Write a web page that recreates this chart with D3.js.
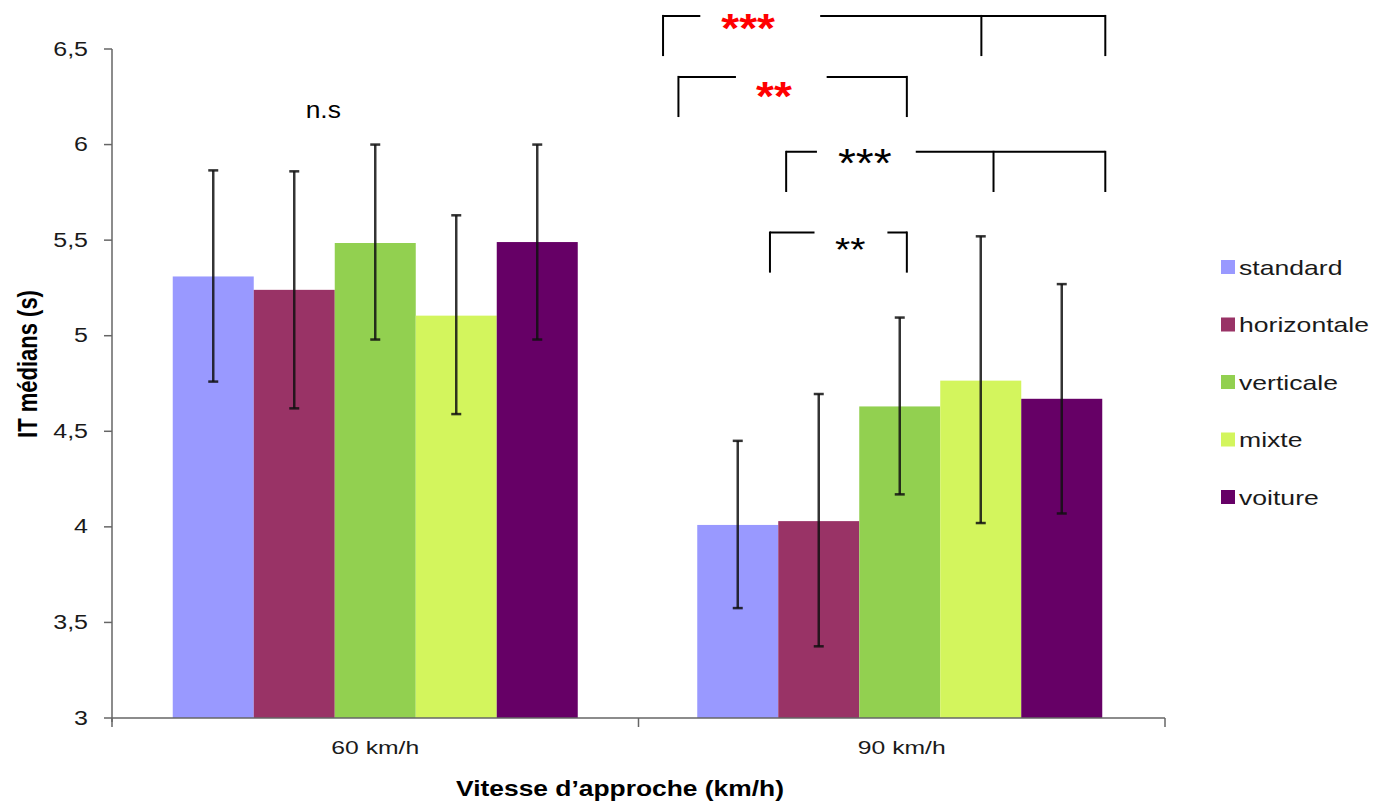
<!DOCTYPE html>
<html lang="fr">
<head>
    <meta charset="UTF-8">
    <title>IT médians selon la vitesse d'approche</title>
    <script src="https://d3js.org/d3.v7.min.js"></script>
    <style>
        body {
            margin: 0;
            background: white;
            font-family: "Liberation Sans", Arial, sans-serif;
        }
        .axis-line { stroke: #666; stroke-width: 1.5; fill: none; }
        .err { stroke: #111; stroke-width: 2.5; stroke-opacity: 0.85; }
        .bracket { stroke: #000; stroke-width: 2; fill: none; }
    </style>
</head>
<body>
    <svg id="chart" width="1379" height="805"></svg>

    <script>
        // Data
        const categories = ['60 km/h', '90 km/h'];
        const series = ['standard', 'horizontale', 'verticale', 'mixte', 'voiture'];
        const colors = ['#9999ff', '#993366', '#92d050', '#d3f55d', '#660066'];
        const yTicks = [3, 3.5, 4, 4.5, 5, 5.5, 6, 6.5];

        // medians per category, one entry per series
        const medians = [
            [5.31, 5.24, 5.485, 5.105, 5.49],
            [4.01, 4.03, 4.63, 4.765, 4.67]
        ];
        const errLow = [
            [4.76, 4.62, 4.98, 4.59, 4.98],
            [3.575, 3.375, 4.17, 4.02, 4.07]
        ];
        const errHigh = [
            [5.865, 5.86, 6.0, 5.63, 6.0],
            [4.45, 4.695, 5.095, 5.52, 5.27]
        ];

        // significance brackets over the 90 km/h group
        // x in bar slots (0 = standard ... 4 = voiture), y in data units
        const brackets = [
            { label: '***', color: '#ff0000', bold: true, size: 40, top: 6.673, bottom: 6.463,
              left: -0.91, right: 4.55, drops: [-0.91, 3.02, 4.55], gap: [-0.45, 1.03], text: 0.14, textY: 6.652 },
            { label: '**', color: '#ff0000', bold: true, size: 40, top: 6.354, bottom: 6.144,
              left: -0.72, right: 2.10, drops: [-0.72, 2.10], gap: [-0.01, 1.11], text: 0.46, textY: 6.296 },
            { label: '***', color: '#000000', bold: false, size: 40, top: 5.962, bottom: 5.752,
              left: 0.61, right: 4.55, drops: [0.61, 3.17, 4.55], gap: [0.99, 2.21], text: 1.58, textY: 5.945 },
            { label: '**', color: '#000000', bold: false, size: 34, top: 5.540, bottom: 5.330,
              left: 0.41, right: 2.10, drops: [0.41, 2.10], gap: [0.96, 1.86], text: 1.40, textY: 5.49 }
        ];

        const svg = d3.select('#chart');
        const plot = { left: 112, right: 1165, top: 49, bottom: 718 };
        const sx = 1.25; // the original picture is stretched sideways

        const x0 = d3.scaleBand()
            .domain(categories)
            .range([plot.left, plot.right]);

        const x1 = d3.scaleBand()
            .domain(series)
            .range([0, x0.bandwidth()])
            .paddingOuter(0.75);

        const y = d3.scaleLinear()
            .domain([3, 6.5])
            .range([plot.bottom, plot.top]);

        function stretchedText(g, x, yPos, txt, opts) {
            const t = g.append('text')
                .attr('transform', `translate(${x},${yPos}) scale(${opts.sx || sx},1)` + (opts.rotate ? ` rotate(${opts.rotate})` : ''))
                .attr('text-anchor', opts.anchor || 'middle')
                .attr('font-size', opts.size)
                .attr('font-weight', opts.bold ? 'bold' : 'normal')
                .attr('fill', opts.color || '#000')
                .text(txt);
            if (opts.baseline) t.attr('dominant-baseline', opts.baseline);
            return t;
        }

        // bars
        const groups = svg.append('g')
            .selectAll('g')
            .data(categories)
            .join('g')
            .attr('transform', (d, i) => `translate(${x0(d) - 2 * i},0)`);

        groups.selectAll('rect')
            .data((d, ci) => series.map((s, si) => ({ s, si, v: medians[ci][si] })))
            .join('rect')
            .attr('x', d => x1(d.s))
            .attr('y', d => y(d.v))
            .attr('width', x1.bandwidth())
            .attr('height', d => y(3) - y(d.v))
            .attr('fill', d => colors[d.si]);

        // error bars
        const capW = 5;
        const errs = groups.selectAll('g.errbar')
            .data((d, ci) => series.map((s, si) => ({ s, lo: errLow[ci][si], hi: errHigh[ci][si] })))
            .join('g')
            .attr('class', 'errbar')
            .attr('transform', d => `translate(${x1(d.s) + x1.bandwidth() / 2},0)`);

        errs.append('line').attr('class', 'err')
            .attr('x1', 0).attr('x2', 0)
            .attr('y1', d => y(d.lo)).attr('y2', d => y(d.hi));
        errs.append('line').attr('class', 'err')
            .attr('x1', -capW).attr('x2', capW)
            .attr('y1', d => y(d.hi)).attr('y2', d => y(d.hi));
        errs.append('line').attr('class', 'err')
            .attr('x1', -capW).attr('x2', capW)
            .attr('y1', d => y(d.lo)).attr('y2', d => y(d.lo));

        // y axis
        const yAxis = svg.append('g');
        yAxis.append('line').attr('class', 'axis-line')
            .attr('x1', plot.left).attr('x2', plot.left)
            .attr('y1', y(6.5)).attr('y2', plot.bottom + 4);
        yTicks.forEach(t => {
            yAxis.append('line').attr('class', 'axis-line')
                .attr('x1', plot.left - 8).attr('x2', plot.left)
                .attr('y1', y(t)).attr('y2', y(t));
            stretchedText(yAxis, 88, y(t), String(t).replace('.', ','),
                { size: 20, anchor: 'end', color: '#1a1a1a', baseline: 'central' });
        });

        // x axis
        const xAxis = svg.append('g');
        xAxis.append('line').attr('class', 'axis-line')
            .attr('x1', plot.left).attr('x2', plot.right)
            .attr('y1', plot.bottom).attr('y2', plot.bottom);
        [plot.left, ...categories.map(c => x0(c) + x0.bandwidth())].forEach(px => {
            xAxis.append('line').attr('class', 'axis-line')
                .attr('x1', px).attr('x2', px)
                .attr('y1', plot.bottom).attr('y2', plot.bottom + 9);
        });
        categories.forEach(c => {
            stretchedText(xAxis, x0(c) + x0.bandwidth() / 2, 754, c,
                { size: 19, sx: 1.3, color: '#1a1a1a' });
        });

        // axis titles
        stretchedText(svg, 620, 796, 'Vitesse d\u2019approche (km/h)', { size: 22, bold: true, sx: 1.2 });
        stretchedText(svg, 37, 364, 'IT médians (s)', { size: 22, bold: true, rotate: -90 });

        // n.s over the 60 km/h group
        stretchedText(svg, x0(categories[0]) + x0.bandwidth() / 2 - 52, 118, 'n.s', { size: 24, sx: 1.1 });

        // brackets
        const slot = d3.scaleLinear()
            .domain([0, 4])
            .range([x1(series[0]) + x1.bandwidth() / 2, x1(series[4]) + x1.bandwidth() / 2]);
        const g90 = svg.append('g').attr('transform', `translate(${x0(categories[1]) - 3},0)`);

        brackets.forEach(b => {
            g90.append('path').attr('class', 'bracket')
                .attr('d', `M${slot(b.left)},${y(b.top)}H${slot(b.gap[0])}M${slot(b.gap[1])},${y(b.top)}H${slot(b.right)}`);
            b.drops.forEach(u => {
                g90.append('line').attr('class', 'bracket')
                    .attr('x1', slot(u)).attr('x2', slot(u))
                    .attr('y1', y(b.top) - 1).attr('y2', y(b.bottom));
            });
            stretchedText(g90, slot(b.text), y(b.textY) + b.size * 0.55, b.label,
                { size: b.size, bold: b.bold, color: b.color, sx: 1.15 });
        });

        // legend
        const legend = svg.append('g').attr('transform', 'translate(1221,267)');
        series.forEach((s, i) => {
            const row = legend.append('g').attr('transform', `translate(0,${i * 57.5})`);
            row.append('rect')
                .attr('x', 0).attr('y', -7)
                .attr('width', 14).attr('height', 14)
                .attr('fill', colors[i]);
            stretchedText(row, 18, 1, s, { size: 20, anchor: 'start', sx: 1.33, color: '#1a1a1a', baseline: 'central' });
        });
    </script>
</body>
</html>
